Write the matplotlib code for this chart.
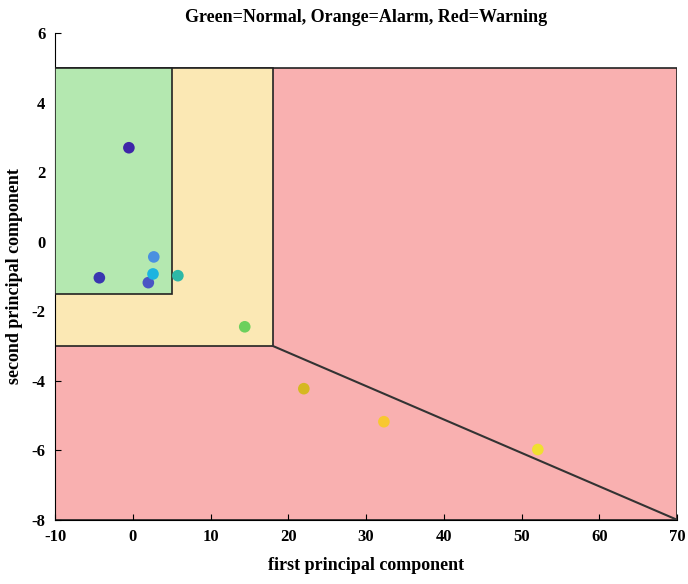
import numpy as np
import matplotlib
matplotlib.use('Agg')
from matplotlib import pyplot as plt
from matplotlib.colors import LinearSegmentedColormap
from matplotlib.patches import Rectangle

# principal component scores
pc1 = [-0.5, -4.3, 2.0, 2.7, 2.6, 5.8, 14.4, 22.0, 32.3, 52.1]
pc2 = [2.70, -1.04, -1.18, -0.44, -0.93, -0.98, -2.45, -4.23, -5.18, -5.98]
order = np.arange(len(pc1))

# zone limits
x_min, x_max = -10, 70
y_min, y_top = -8, 5
green_x, green_y = 5, -1.5
alarm_x, alarm_y = 18, -3

xticks = np.arange(-10, 71, 10)
yticks = np.arange(-8, 7, 2)

plt.rcParams['font.family'] = 'Liberation Serif'
plt.rcParams['font.weight'] = 'bold'
plt.rcParams['axes.unicode_minus'] = False

parula = LinearSegmentedColormap.from_list(
    'parula', ['#3e26a8', '#3a36b0', '#4a55c4', '#4a90e0', '#1ab4e0',
               '#2cb8a8', '#6cd05c', '#d4b822', '#f8c830', '#f0e030'])

fig = plt.figure(figsize=(6.88, 5.84), dpi=100)
ax = fig.add_axes([0.080, 0.110, 0.904, 0.8335])

ax.add_patch(Rectangle((x_min, y_min), x_max - x_min, y_top - y_min,
                       facecolor='#f9b0b0', edgecolor='#222222', lw=1.2, zorder=1))
ax.add_patch(Rectangle((x_min, alarm_y), alarm_x - x_min, y_top - alarm_y,
                       facecolor='#fbe8b4', edgecolor='#222222', lw=1.2, zorder=2))
ax.add_patch(Rectangle((x_min, green_y), green_x - x_min, y_top - green_y,
                       facecolor='#b4e8b0', edgecolor='#222222', lw=1.2, zorder=3))
ax.plot([alarm_x, x_max], [alarm_y, y_min], color='#333333', lw=1.5, zorder=4)

ax.scatter(pc1, pc2, c=order, cmap=parula, s=70, edgecolors='none', zorder=5)

ax.set_xlim(x_min, x_max)
ax.set_ylim(-8, 6)
ax.set_xticks(xticks)
ax.set_yticks(yticks)
ax.tick_params(direction='in', labelsize=12, length=4)
ax.tick_params(axis='x', pad=7)
ax.tick_params(axis='y', pad=7)
for s in ['top', 'right']:
    ax.spines[s].set_visible(False)
ax.set_xlabel('first principal component', fontsize=13, fontweight='bold', labelpad=8)
ax.set_ylabel('second principal component', fontsize=13, fontweight='bold', labelpad=6)
ax.set_title('Green=Normal, Orange=Alarm, Red=Warning', fontsize=13, fontweight='bold', pad=8)

fig.savefig('out.png', dpi=100)
